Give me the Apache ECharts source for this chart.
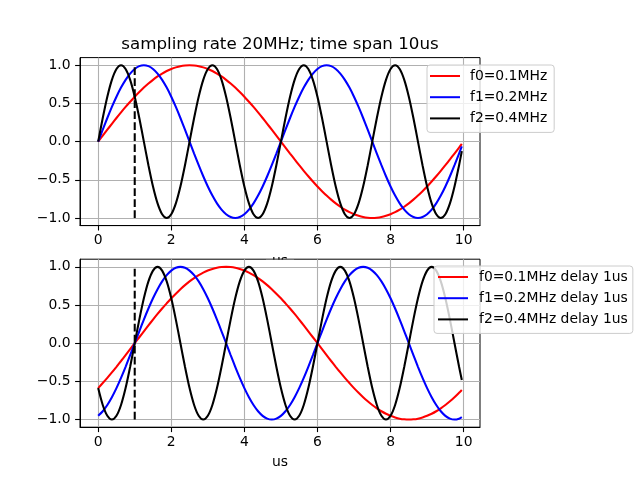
<!DOCTYPE html>
<html><head><meta charset="utf-8">
<script src="https://cdn.jsdelivr.net/npm/echarts@6/dist/echarts.min.js"></script>
<style>html,body{margin:0;padding:0;background:#fff}#c{width:640px;height:480px}</style>
</head><body><div id="c"></div>
<script>
// time samples (us)
const T = [0,0.125,0.25,0.375,0.5,0.625,0.75,0.875,1,1.125,1.25,1.375,1.5,1.625,1.75,1.875,2,2.125,2.25,2.375,2.5,2.625,2.75,2.875,3,3.125,3.25,3.375,3.5,3.625,3.75,3.875,4,4.125,4.25,4.375,4.5,4.625,4.75,4.875,5,5.125,5.25,5.375,5.5,5.625,5.75,5.875,6,6.125,6.25,6.375,6.5,6.625,6.75,6.875,7,7.125,7.25,7.375,7.5,7.625,7.75,7.875,8,8.125,8.25,8.375,8.5,8.625,8.75,8.875,9,9.125,9.25,9.375,9.5,9.625,9.75,9.875,9.95];

// top panel
const F0 = [0,0.078,0.156,0.233,0.309,0.383,0.454,0.522,0.588,0.649,0.707,0.760,0.809,0.853,0.891,0.924,0.951,0.972,0.988,0.997,1,
0.997,0.988,0.972,0.951,0.924,0.891,0.853,0.809,0.760,0.707,0.649,0.588,0.522,0.454,0.383,0.309,0.233,0.156,0.078,0,
-0.078,-0.156,-0.233,-0.309,-0.383,-0.454,-0.522,-0.588,-0.649,-0.707,-0.760,-0.809,-0.853,-0.891,-0.924,-0.951,-0.972,-0.988,-0.997,-1,
-0.997,-0.988,-0.972,-0.951,-0.924,-0.891,-0.853,-0.809,-0.760,-0.707,-0.649,-0.588,-0.522,-0.454,-0.383,-0.309,-0.233,-0.156,-0.078,
-0.031];
const F1 = [0,0.156,0.309,0.454,0.588,0.707,0.809,0.891,0.951,0.988,1,0.988,0.951,0.891,0.809,0.707,0.588,0.454,0.309,0.156,0,-0.156,-0.309,-0.454,-0.588,-0.707,-0.809,-0.891,-0.951,-0.988,-1,-0.988,-0.951,-0.891,-0.809,-0.707,-0.588,-0.454,-0.309,-0.156,
0,0.156,0.309,0.454,0.588,0.707,0.809,0.891,0.951,0.988,1,0.988,0.951,0.891,0.809,0.707,0.588,0.454,0.309,0.156,0,-0.156,-0.309,-0.454,-0.588,-0.707,-0.809,-0.891,-0.951,-0.988,-1,-0.988,-0.951,-0.891,-0.809,-0.707,-0.588,-0.454,-0.309,-0.156,
-0.063];
const F2 = [0,0.309,0.588,0.809,0.951,1,0.951,0.809,0.588,0.309,0,-0.309,-0.588,-0.809,-0.951,-1,-0.951,-0.809,-0.588,-0.309,
0,0.309,0.588,0.809,0.951,1,0.951,0.809,0.588,0.309,0,-0.309,-0.588,-0.809,-0.951,-1,-0.951,-0.809,-0.588,-0.309,
0,0.309,0.588,0.809,0.951,1,0.951,0.809,0.588,0.309,0,-0.309,-0.588,-0.809,-0.951,-1,-0.951,-0.809,-0.588,-0.309,
0,0.309,0.588,0.809,0.951,1,0.951,0.809,0.588,0.309,0,-0.309,-0.588,-0.809,-0.951,-1,-0.951,-0.809,-0.588,-0.309,
-0.125];

// bottom panel (delay 1us)
const D0 = [-0.588,-0.522,-0.454,-0.383,-0.309,-0.233,-0.156,-0.078,
0,0.078,0.156,0.233,0.309,0.383,0.454,0.522,0.588,0.649,0.707,0.760,0.809,0.853,0.891,0.924,0.951,0.972,0.988,0.997,1,
0.997,0.988,0.972,0.951,0.924,0.891,0.853,0.809,0.760,0.707,0.649,0.588,0.522,0.454,0.383,0.309,0.233,0.156,0.078,0,
-0.078,-0.156,-0.233,-0.309,-0.383,-0.454,-0.522,-0.588,-0.649,-0.707,-0.760,-0.809,-0.853,-0.891,-0.924,-0.951,-0.972,-0.988,-0.997,-1,
-0.997,-0.988,-0.972,-0.951,-0.924,-0.891,-0.853,-0.809,-0.760,-0.707,-0.649,
-0.613];
const D1 = [-0.951,-0.891,-0.809,-0.707,-0.588,-0.454,-0.309,-0.156,
0,0.156,0.309,0.454,0.588,0.707,0.809,0.891,0.951,0.988,1,0.988,0.951,0.891,0.809,0.707,0.588,0.454,0.309,0.156,0,-0.156,-0.309,-0.454,-0.588,-0.707,-0.809,-0.891,-0.951,-0.988,-1,-0.988,-0.951,-0.891,-0.809,-0.707,-0.588,-0.454,-0.309,-0.156,
0,0.156,0.309,0.454,0.588,0.707,0.809,0.891,0.951,0.988,1,0.988,0.951,0.891,0.809,0.707,0.588,0.454,0.309,0.156,0,-0.156,-0.309,-0.454,-0.588,-0.707,-0.809,-0.891,-0.951,-0.988,-1,-0.988,
-0.969];
const D2 = [-0.588,-0.809,-0.951,-1,-0.951,-0.809,-0.588,-0.309,
0,0.309,0.588,0.809,0.951,1,0.951,0.809,0.588,0.309,0,-0.309,-0.588,-0.809,-0.951,-1,-0.951,-0.809,-0.588,-0.309,
0,0.309,0.588,0.809,0.951,1,0.951,0.809,0.588,0.309,0,-0.309,-0.588,-0.809,-0.951,-1,-0.951,-0.809,-0.588,-0.309,
0,0.309,0.588,0.809,0.951,1,0.951,0.809,0.588,0.309,0,-0.309,-0.588,-0.809,-0.951,-1,-0.951,-0.809,-0.588,-0.309,
0,0.309,0.588,0.809,0.951,1,0.951,0.809,0.588,0.309,0,-0.309,
-0.482];

const MARK_X = [1, 1];
const MARK_Y = [-1, 1];

const X_TICKS = [0, 2, 4, 6, 8, 10];
const Y_TICKS = [-1, -0.5, 0, 0.5, 1];

const TITLE = 'sampling rate 20MHz; time span 10us';
const X_NAME = 'us';
const NAMES_TOP = ['f0=0.1MHz', 'f1=0.2MHz', 'f2=0.4MHz'];
const NAMES_BOT = ['f0=0.1MHz delay 1us', 'f1=0.2MHz delay 1us', 'f2=0.4MHz delay 1us'];
const COLORS = ['#ff0000', '#0000ff', '#000000'];

const FONT = 'DejaVu Sans';
const LW = 2.08;

function zip(ys) { return T.map((t, i) => [t, ys[i]]); }

function xAxis(gi) {
  return {
    type: 'value', gridIndex: gi, min: -0.4975, max: 10.4475,
    axisLine: { show: true, onZero: false, lineStyle: { color: '#000', width: 1 } },
    axisTick: { show: true, length: 4.9, inside: false, customValues: X_TICKS, lineStyle: { color: '#000', width: 1.1 } },
    axisLabel: { customValues: X_TICKS, margin: 8, color: '#000', fontSize: 13.9, fontFamily: FONT, formatter: v => String(v) },
    splitLine: { show: true, lineStyle: { color: '#b0b0b0', width: 1.1 } },
    name: X_NAME, nameLocation: 'middle', nameGap: 28.5,
    nameTextStyle: { color: '#000', fontSize: 13.9, fontFamily: FONT }
  };
}
function yAxis(gi) {
  return {
    type: 'value', gridIndex: gi, min: -1.1, max: 1.1,
    axisLine: { show: true, onZero: false, lineStyle: { color: '#000', width: 1 } },
    axisTick: { show: true, length: 4.9, inside: false, customValues: Y_TICKS, lineStyle: { color: '#000', width: 1.1 } },
    axisLabel: { customValues: Y_TICKS, margin: 9.5, color: '#000', fontSize: 13.9, fontFamily: FONT,
      formatter: v => (v < 0 ? '\u2212' : '') + Math.abs(v).toFixed(1) },
    splitLine: { show: true, lineStyle: { color: '#b0b0b0', width: 1.1 } }
  };
}
function lineSeries(name, ys, color, gi) {
  return {
    type: 'line', name, data: zip(ys), xAxisIndex: gi, yAxisIndex: gi,
    symbol: 'none', smooth: 0.3, showSymbol: false,
    lineStyle: { color, width: LW }, itemStyle: { color }, emphasis: { disabled: true }
  };
}
function markSeries(gi) {
  return {
    type: 'line', name: 'marker' + gi, data: MARK_X.map((x, i) => [x, MARK_Y[i]]),
    xAxisIndex: gi, yAxisIndex: gi, symbol: 'none',
    lineStyle: { color: '#000', width: LW, type: [7.7, 3.3] }, emphasis: { disabled: true }
  };
}
function legend(names, left, top, pad, textPadLeft) {
  return {
    data: names, orient: 'vertical', left, top, icon: 'rect', itemWidth: 30, itemHeight: 2,
    itemGap: 7.2, padding: pad, selectedMode: false,
    backgroundColor: 'rgba(255,255,255,0.8)', borderColor: '#cccccc', borderWidth: 1, borderRadius: 3,
    textStyle: { color: '#000', fontSize: 13.9, fontFamily: FONT, lineHeight: 14, padding: [0, 0, 0, textPadLeft] }
  };
}

const chart = echarts.init(document.getElementById('c'), null, { renderer: 'canvas' });
chart.setOption({
  animation: false,
  backgroundColor: '#fff',
  title: { text: TITLE, left: 275, top: 31, textAlign: 'center',
    textStyle: { color: '#000', fontSize: 16.7, fontWeight: 'normal', fontFamily: FONT } },
  grid: [
    { left: 80, top: 57.6, width: 400, height: 168, show: true, borderColor: '#000', borderWidth: 1, backgroundColor: 'transparent', containLabel: false, outerBoundsMode: 'none' },
    { left: 80, top: 259.2, width: 400, height: 168, show: true, borderColor: '#000', borderWidth: 1, backgroundColor: 'transparent', containLabel: false, outerBoundsMode: 'none' }
  ],
  xAxis: [xAxis(0), xAxis(1)],
  yAxis: [yAxis(0), yAxis(1)],
  legend: [
    legend(NAMES_TOP, 427, 65, [4, 7, 7, 3], 5),
    legend(NAMES_BOT, 434, 266, [4, 5, 7, 4], 6)
  ],
  graphic: [
    { type: 'rect', z: 10, shape: { x: 266, y: 259.8, width: 28, height: 6.3 }, style: { fill: '#fff' } }
  ],
  series: [
    lineSeries(NAMES_TOP[0], F0, COLORS[0], 0),
    lineSeries(NAMES_TOP[1], F1, COLORS[1], 0),
    lineSeries(NAMES_TOP[2], F2, COLORS[2], 0),
    markSeries(0),
    lineSeries(NAMES_BOT[0], D0, COLORS[0], 1),
    lineSeries(NAMES_BOT[1], D1, COLORS[1], 1),
    lineSeries(NAMES_BOT[2], D2, COLORS[2], 1),
    markSeries(1)
  ]
});
</script></body></html>
